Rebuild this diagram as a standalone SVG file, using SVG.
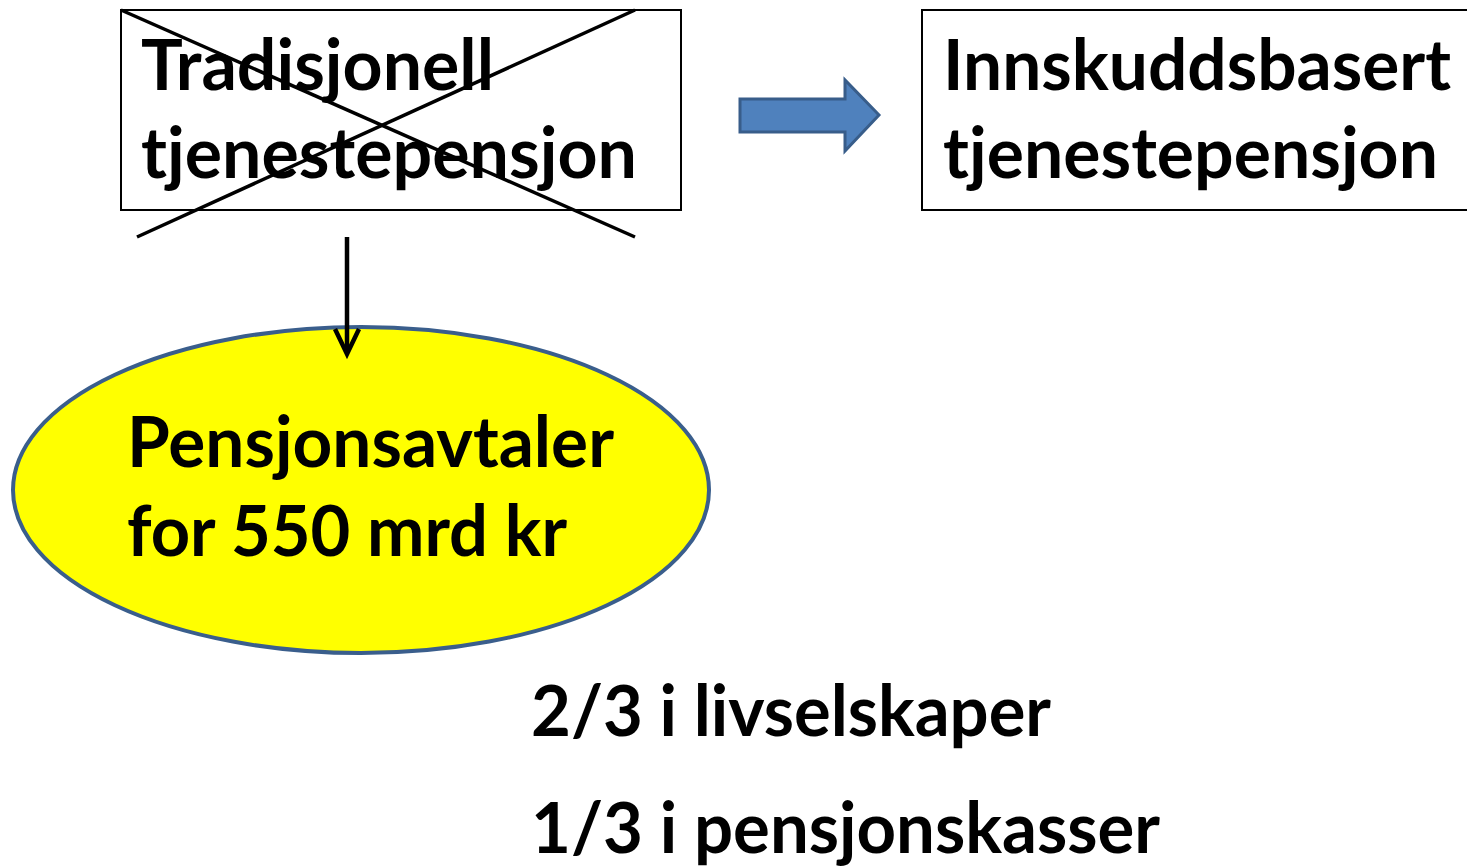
<svg xmlns="http://www.w3.org/2000/svg" width="1467" height="866" viewBox="0 0 1467 866">
<defs>
<style>
.t{font-family:Lato,"Liberation Sans",sans-serif;font-weight:bold;font-size:70px;fill:#000}
.box{fill:#fff;stroke:#000;stroke-width:2}
.ln{stroke:#000;stroke-width:3.5;fill:none}
.arr{stroke:#000;stroke-width:4.5;fill:none}
</style>
</defs>
<rect width="1467" height="866" fill="#fff"/>
<g id="node-tradisjonell">
<rect class="box" x="121" y="10" width="560" height="200"/>
<text class="t" x="141" y="90" textLength="353" lengthAdjust="spacingAndGlyphs">Tradisjonell</text>
<text class="t" x="141" y="178" textLength="496" lengthAdjust="spacingAndGlyphs">tjenestepensjon</text>
<line class="ln" x1="121" y1="10" x2="635" y2="237"/>
<line class="ln" x1="137" y1="237" x2="635" y2="10"/>
</g>
<g id="node-innskudd">
<rect class="box" x="922" y="10" width="560" height="200"/>
<text class="t" x="943" y="90" textLength="508" lengthAdjust="spacingAndGlyphs">Innskuddsbasert</text>
<text class="t" x="943" y="178" textLength="495" lengthAdjust="spacingAndGlyphs">tjenestepensjon</text>
</g>
<g id="node-pensjonsavtaler">
<ellipse cx="361" cy="490" rx="348" ry="163" fill="#FFFF00" stroke="#3A5E8C" stroke-width="4"/>
<text class="t" x="127" y="467" textLength="487" lengthAdjust="spacingAndGlyphs">Pensjonsavtaler</text>
<text class="t" x="127" y="556" textLength="440" lengthAdjust="spacingAndGlyphs">for 550 mrd kr</text>
</g>
<g id="node-fordeling">
<text class="t" x="531" y="736" textLength="520" lengthAdjust="spacingAndGlyphs">2/3 i livselskaper</text>
<text class="t" x="531" y="853" textLength="629" lengthAdjust="spacingAndGlyphs">1/3 i pensjonskasser</text>
</g>
<g id="connectors">
<path d="M740,99 L845,99 L845,80 L879,115 L845,151 L845,132 L740,132 Z" fill="#4F81BD" stroke="#385D8A" stroke-width="3"/>
<line class="arr" x1="347" y1="237" x2="347" y2="352"/>
<path class="arr" d="M335,329 L347,354 L359,329"/>
</g>
</svg>
